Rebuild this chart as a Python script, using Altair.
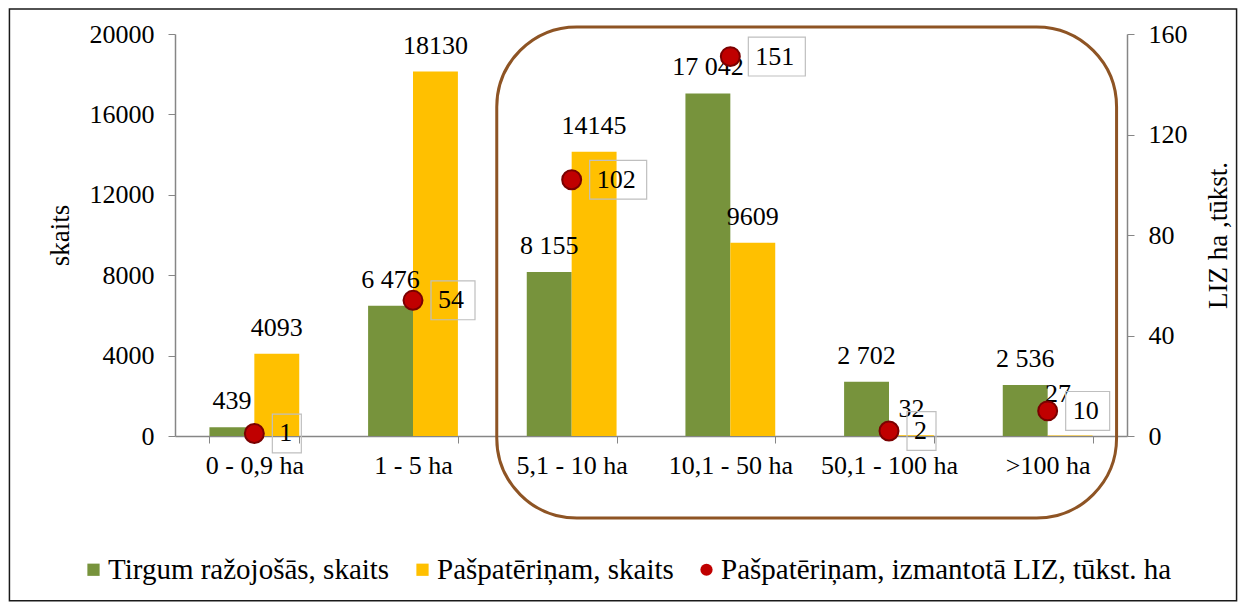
import altair as alt
import pandas as pd

FONT = "'Liberation Serif', 'Times New Roman', Tinos, 'DejaVu Serif', serif"

# ---- data ----
categories = ["0 - 0,9 ha", "1 - 5 ha", "5,1 - 10 ha", "10,1 - 50 ha", "50,1 - 100 ha", ">100 ha"]
series_names = ["Tirgum ražojošās, skaits", "Pašpatēriņam, skaits",
                "Pašpatēriņam, izmantotā LIZ, tūkst. ha"]
market_counts = [439, 6476, 8155, 17042, 2702, 2536]
own_use_counts = [4093, 18130, 14145, 9609, 32, 27]
own_use_land = [1, 54, 102, 151, 2, 10]
market_labels = ["439", "6 476", "8 155", "17 042", "2 702", "2 536"]
own_use_labels = ["4093", "18130", "14145", "9609", "32", "27"]
left_ticks = [0, 4000, 8000, 12000, 16000, 20000]
right_ticks = [0, 40, 80, 120, 160]

colors = ["#77933C", "#FFC000", "#C00000"]
AXIS_GREY = "#868686"

# ---- tables ----
bar_df = pd.DataFrame({
    "cat": categories * 2,
    "series": [series_names[0]] * 6 + [series_names[1]] * 6,
    "value": market_counts + own_use_counts,
    "label": market_labels + own_use_labels,
})
dot_df = pd.DataFrame({
    "cat": categories,
    "series": [series_names[2]] * 6,
    "land": own_use_land,
    "label": [str(v) for v in own_use_land],
    "ndig": [len(str(v)) for v in own_use_land],
})
# highlight box around the larger farm groups and the outer chart frame (data units)
highlight_df = pd.DataFrame({"cat": [categories[2]], "c2": [categories[5]],
                             "value": [20350], "bottom": [-4080]})
frame_df = pd.DataFrame({"cat": [categories[0]], "c2": [categories[5]],
                         "value": [21240], "bottom": [-8200]})

# ---- scales / axes ----
xscale = alt.Scale(domain=categories, paddingInner=0.434, paddingOuter=0.217)
yscale = alt.Scale(domain=[0, 20000], nice=False, zero=True)
rscale = alt.Scale(domain=[0, 160], nice=False, zero=True)
color_scale = alt.Scale(domain=series_names, range=colors)
shape_scale = alt.Scale(domain=series_names, range=["square", "square", "circle"])

legend = alt.Legend(
    title=None, orient="none", direction="horizontal", legendX=-96, legendY=521,
    labelFont=FONT, labelFontSize=29, labelColor="black", labelLimit=800,
    symbolSize=150, symbolStrokeWidth=0, labelOffset=0, columnPadding=18,
)

xaxis = alt.Axis(title=None, labelFont=FONT, labelFontSize=26, labelColor="black",
                 labelAngle=0, labelPadding=9, domainColor=AXIS_GREY, tickColor=AXIS_GREY,
                 tickBand="extent", tickSize=7, grid=False, domainWidth=1.5)
yaxis = alt.Axis(values=left_ticks, format="d", labelFont=FONT, labelFontSize=26,
                 labelColor="black", labelPadding=14, tickSize=7, domainColor=AXIS_GREY,
                 tickColor=AXIS_GREY, grid=False, titleFont=FONT, titleFontSize=27,
                 titleFontWeight="normal", titleColor="black", titlePadding=15,
                 domainWidth=1.5)
raxis = alt.Axis(orient="right", values=right_ticks, format="d", labelFont=FONT,
                 labelFontSize=26, labelColor="black", labelPadding=14, tickSize=7,
                 domainColor=AXIS_GREY, tickColor=AXIS_GREY, grid=False, titleFont=FONT,
                 titleFontSize=27, titleFontWeight="normal", titleColor="black",
                 titlePadding=45, titleAngle=270, domainWidth=1.5)

x_enc = alt.X("cat:N", sort=categories, scale=xscale, axis=xaxis, title=None)
y_left = alt.Y("value:Q", scale=yscale, axis=yaxis, title="skaits")
y_right = alt.Y("land:Q", scale=rscale, axis=raxis, title="LIZ ha ,tūkst.")
xoff = alt.XOffset("series:N", sort=series_names[:2],
                   scale=alt.Scale(domain=series_names[:2], paddingInner=0, paddingOuter=0))

bars = alt.Chart(bar_df).mark_bar().encode(
    x=x_enc, xOffset=xoff, y=y_left,
    color=alt.Color("series:N", scale=color_scale, legend=legend),
)
# value labels; the tiny last yellow label sits up-left, clear of the dot's label box
bar_text = alt.Chart(bar_df).transform_filter(alt.datum.value >= 30).mark_text(
    baseline="alphabetic", dy=-18, font=FONT, fontSize=26, color="black"
).encode(x=x_enc, xOffset=xoff, y=y_left, text="label:N")
bar_text_small = alt.Chart(bar_df).transform_filter(alt.datum.value < 30).mark_text(
    baseline="alphabetic", dx=-12, dy=-33, font=FONT, fontSize=26, color="black"
).encode(x=x_enc, xOffset=xoff, y=y_left, text="label:N")

highlight = alt.Chart(highlight_df).mark_rect(
    fillOpacity=0, stroke="#8E5424", strokeWidth=3, cornerRadius=80,
    xOffset=-30, x2Offset=24
).encode(
    x=alt.X("cat:N", sort=categories, scale=xscale, axis=xaxis, title=None, bandPosition=0),
    x2=alt.X2("c2:N", bandPosition=1),
    y=y_left, y2="bottom:Q",
)
frame = alt.Chart(frame_df).mark_rect(
    fillOpacity=0, stroke="#1a1a1a", strokeWidth=1.5,
    xOffset=-200, x2Offset=144
).encode(
    x=alt.X("cat:N", sort=categories, scale=xscale, axis=xaxis, title=None, bandPosition=0),
    x2=alt.X2("c2:N", bandPosition=1),
    y=y_left, y2="bottom:Q",
)
left = alt.layer(bars, bar_text, bar_text_small, highlight, frame)

box_paths = {
    1: "M0.9,-0.97H2.35V0.97H0.9Z",
    2: "M0.9,-0.97H3.1V0.97H0.9Z",
    3: "M0.9,-0.97H3.75V0.97H0.9Z",
}
box_layers = [
    alt.Chart(dot_df).transform_filter(alt.datum.ndig == n).mark_point(
        shape=p, size=1600, filled=False, stroke="#BFBFBF", strokeWidth=1.2, opacity=1
    ).encode(x=x_enc, y=y_right)
    for n, p in box_paths.items()
]
dots = alt.Chart(dot_df).mark_point(
    filled=True, size=360, opacity=1, stroke="#7A0000", strokeWidth=2
).encode(
    x=x_enc, y=y_right,
    color=alt.Color("series:N", scale=color_scale, legend=legend),
    shape=alt.Shape("series:N", scale=shape_scale, legend=legend),
)
dot_text = alt.Chart(dot_df).mark_text(
    align="left", baseline="middle", dx=25, font=FONT, fontSize=26, color="black"
).encode(x=x_enc, y=y_right, text="label:N")
right = alt.layer(*box_layers, dots, dot_text)

chart = alt.layer(left, right).resolve_scale(y="independent").properties(
    width=952, height=402,
    autosize=alt.AutoSizeParams(type="none"),
    padding={"left": 167, "top": 26, "right": 112, "bottom": 167},
    background="white",
).configure(font=FONT).configure_view(stroke=None)

chart.save("out.html", embed_options={"renderer": "svg", "actions": False})
